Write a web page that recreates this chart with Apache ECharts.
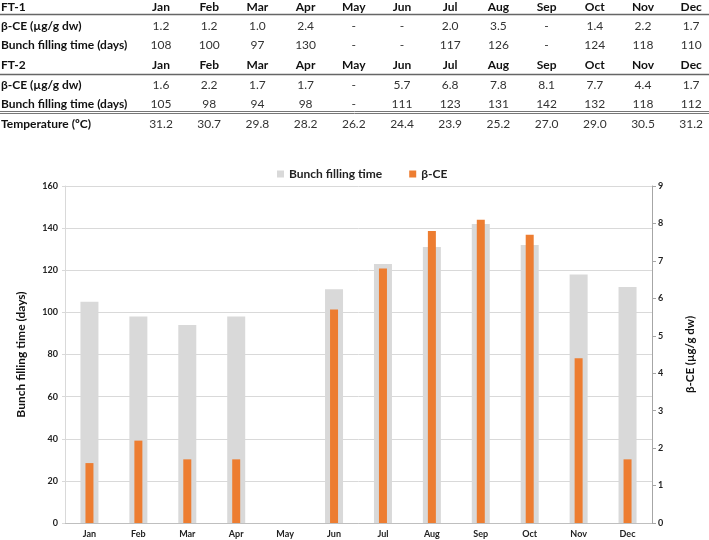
<!DOCTYPE html>
<html>
<head>
<meta charset="utf-8">
<script src="https://cdn.jsdelivr.net/npm/echarts@6/dist/echarts.min.js"></script>
<style>
html,body{margin:0;padding:0;background:#fff;}
#chart{width:709px;height:540px;}
</style>
</head>
<body>
<div id="chart"></div>
<script>
// ---- data ----
const months = ['Jan','Feb','Mar','Apr','May','Jun','Jul','Aug','Sep','Oct','Nov','Dec'];
const ft1BetaCE = ['1.2','1.2','1.0','2.4','-','-','2.0','3.5','-','1.4','2.2','1.7'];
const ft1Bunch = ['108','100','97','130','-','-','117','126','-','124','118','110'];
const ft2BetaCE = ['1.6','2.2','1.7','1.7','-','5.7','6.8','7.8','8.1','7.7','4.4','1.7'];
const ft2Bunch = ['105','98','94','98','-','111','123','131','142','132','118','112'];
const temperature = ['31.2','30.7','29.8','28.2','26.2','24.4','23.9','25.2','27.0','29.0','30.5','31.2'];
// chart series (FT-2)
const bunchFillingTime = [105, 98, 94, 98, null, 111, 123, 131, 142, 132, 118, 112];
const betaCE = [1.6, 2.2, 1.7, 1.7, null, 5.7, 6.8, 7.8, 8.1, 7.7, 4.4, 1.7];
const leftTicks = [0, 20, 40, 60, 80, 100, 120, 140, 160];
const rightTicks = [0, 1, 2, 3, 4, 5, 6, 7, 8, 9];

// ---- table as graphic text ----
const FONT = 'Lato, "Open Sans", sans-serif';
const colX = i => 161 + 48.2 * i;
const rows = [
  {label: 'FT-1', vals: months, header: true, y: 7},
  {label: 'β-CE (µg/g dw)', vals: ft1BetaCE, y: 26},
  {label: 'Bunch filling time (days)', vals: ft1Bunch, y: 45},
  {label: 'FT-2', vals: months, header: true, y: 65},
  {label: 'β-CE (µg/g dw)', vals: ft2BetaCE, y: 85},
  {label: 'Bunch filling time (days)', vals: ft2Bunch, y: 104},
  {label: 'Temperature (ºC)', vals: temperature, y: 124, bold: true}
];
const graphics = [];
rows.forEach(r => {
  graphics.push({type: 'text', style: {text: r.label, x: 1, y: r.y, fill: '#111',
    font: 'bold 12px ' + FONT, align: 'left', verticalAlign: 'middle'}});
  r.vals.forEach((v, i) => {
    graphics.push({type: 'text', style: {text: v, x: colX(i), y: r.y, fill: r.header ? '#111' : '#333',
      font: (r.header ? 'bold ' : '') + '12px ' + FONT, align: 'center', verticalAlign: 'middle'}});
  });
});
const hline = (y, w, c) => ({type: 'line', shape: {x1: 0, y1: y, x2: 709, y2: y}, style: {stroke: c || '#666', lineWidth: w || 1}});
graphics.push(hline(14.5, 1.5), hline(74.5, 1.5), hline(111.5, 1, '#777'), hline(113.5, 1, '#777'));

const chart = echarts.init(document.getElementById('chart'), null, {renderer: 'canvas'});
chart.setOption({
  animation: false,
  textStyle: {fontFamily: FONT},
  graphic: graphics,
  legend: {
    left: 272, top: 163, icon: 'rect', itemWidth: 7, itemHeight: 7, itemGap: 27,
    textStyle: {fontWeight: 'bold', fontSize: 12, color: '#222', fontFamily: FONT},
    data: ['Bunch filling time', 'β-CE']
  },
  grid: {left: 65, right: 57, top: 186, bottom: 17, containLabel: false},
  xAxis: [
    {type: 'category', data: months, boundaryGap: true,
     axisLine: {lineStyle: {color: '#bfbfbf'}}, axisTick: {show: false},
     axisLabel: {fontWeight: 'bold', fontSize: 9, color: '#222', margin: 7, fontFamily: FONT}},
    {type: 'category', data: months, show: false}
  ],
  yAxis: [
    {type: 'value', min: leftTicks[0], max: leftTicks[leftTicks.length - 1], interval: 20,
     name: 'Bunch filling time (days)', nameLocation: 'middle', nameRotate: 90, nameGap: 38,
     nameTextStyle: {fontWeight: 'bold', fontSize: 12, color: '#111', fontFamily: FONT},
     axisLine: {show: true, lineStyle: {color: '#d9d9d9'}},
     axisTick: {show: true, length: 3, lineStyle: {color: '#d9d9d9'}},
     axisLabel: {fontWeight: 'bold', fontSize: 9, color: '#222', margin: 7, fontFamily: FONT},
     splitLine: {lineStyle: {color: '#d9d9d9'}}},
    {type: 'value', min: rightTicks[0], max: rightTicks[rightTicks.length - 1], interval: 1, position: 'right',
     alignTicks: false,
     name: 'β-CE (µg/g dw)', nameLocation: 'middle', nameRotate: 90, nameGap: 32,
     nameTextStyle: {fontWeight: 'bold', fontSize: 11.5, color: '#111', fontFamily: FONT},
     axisLine: {show: true, lineStyle: {color: '#a6a6a6'}},
     axisTick: {show: true, length: 4, lineStyle: {color: '#a6a6a6'}},
     axisLabel: {fontWeight: 'bold', fontSize: 9, color: '#222', margin: 6, fontFamily: FONT},
     splitLine: {show: false}}
  ],
  series: [
    {name: 'Bunch filling time', type: 'bar', xAxisIndex: 0, yAxisIndex: 0, data: bunchFillingTime,
     barWidth: 18, itemStyle: {color: '#d9d9d9'}},
    {name: 'β-CE', type: 'bar', xAxisIndex: 1, yAxisIndex: 1, data: betaCE,
     barWidth: 8, itemStyle: {color: '#ed7d31'}}
  ]
});
</script>
</body>
</html>
